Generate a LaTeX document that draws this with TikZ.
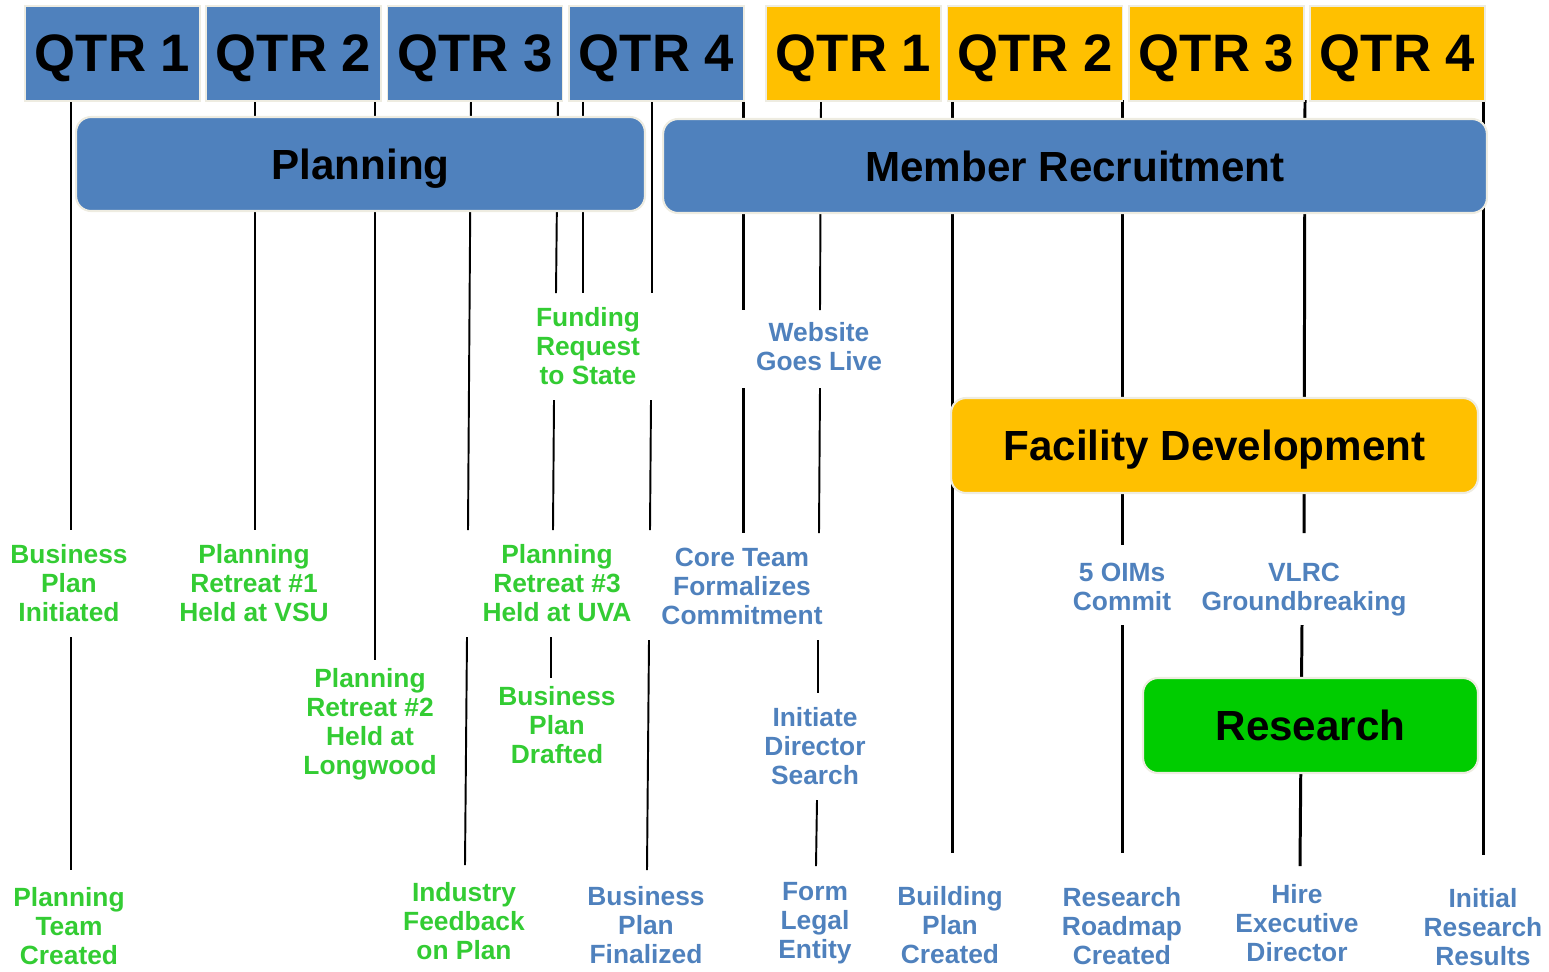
\documentclass[tikz,border=0pt]{standalone}
\usepackage{fontspec}
\setmainfont{Liberation Sans}
\definecolor{qblue}{HTML}{4F81BD}
\definecolor{qgold}{HTML}{FFC000}
\definecolor{qgreen}{HTML}{00CC00}
\definecolor{lgreen}{HTML}{33CC33}
\definecolor{rim}{HTML}{EEECE1}
\begin{document}
\begin{tikzpicture}[x=0.02cm,y=-0.02cm,
  qtr/.style={draw=rim,line width=1pt,minimum width=3.5cm,minimum height=1.9cm,inner sep=0pt,text depth=0pt,font=\bfseries\fontsize{30}{32}\selectfont},
  phase/.style={draw=rim,line width=1.2pt,rounded corners=0.3cm,minimum height=1.88cm,inner sep=0pt,text depth=0pt,font=\bfseries\fontsize{24}{26}\selectfont},
  lbl/.style={align=center,inner sep=0pt,font=\bfseries\fontsize{15}{16.5}\selectfont},
  glbl/.style={lbl,text=lgreen},
  blbl/.style={lbl,text=qblue},
  thk/.style={line width=1.7pt},
  thn/.style={line width=1.1pt}]
\useasboundingbox (0,0) rectangle (1549,971);
% timeline ticks
\foreach \xa/\ya/\xb/\yb in {71/100/71/530,71/637/71/870,255/100/255/530,375/100/375/660,
  583/100/583/293,743/100/743/310,743/388/743/533,952/100/952/853,1122/100/1122/545,
  1122/625/1122/853,1305/100/1304/533,1302/625/1300/866,1483/100/1483/855}
  \draw[thk] (\xa,\ya) -- (\xb,\yb);
\foreach \xa/\ya/\xb/\yb in {471/97/468/530,467/637/465/865,558/97/556/293,554/400/553/530,
  551/637/551/678,652/100/652/293,651/400/650/530,649/640/647/870,821/100/820/310,
  820/388/819/533,818/640/818/693,817/800/816/866}
  \draw[thn] (\xa,\ya) -- (\xb,\yb);
% quarters
\foreach \x [count=\i] in {112.5,293.5,475,656.5}
  \node[qtr,fill=qblue] (q\i) at (\x,53.5) {QTR \i};
\foreach \x [count=\i] in {853.5,1035,1216.5,1397.5}
  \node[qtr,fill=qgold] (r\i) at (\x,53.5) {QTR \i};
% phases
\node[phase,fill=qblue,minimum width=11.38cm] (planning) at (360.5,164) {Planning};
\node[phase,fill=qblue,minimum width=16.48cm] (recruit) at (1075,166) {Member Recruitment};
\node[phase,fill=qgold,minimum width=10.54cm,minimum height=1.9cm] (facility) at (1214.5,445.5) {Facility Development};
\node[phase,fill=qgreen,minimum width=6.7cm,minimum height=1.9cm] (research) at (1310.5,725.5) {Research};
% milestones
\node[glbl] (bpi) at (69,583) {Business\\Plan\\Initiated};
\node[glbl] (ptc) at (69,926) {Planning\\Team\\Created};
\node[glbl] (pr1) at (254,583) {Planning\\Retreat \#1\\Held at VSU};
\node[glbl] (pr2) at (370,724) {Planning\\Retreat \#2\\Held at\\Longwood};
\node[glbl] (ifp) at (464,921) {Industry\\Feedback\\on Plan};
\node[glbl] (frs) at (588,346) {Funding\\Request\\to State};
\node[glbl] (pr3) at (557,583) {Planning\\Retreat \#3\\Held at UVA};
\node[glbl] (bpd) at (557,725) {Business\\Plan\\Drafted};
\node[blbl] (bpf) at (646,925) {Business\\Plan\\Finalized};
\node[blbl] (ctf) at (742,586) {Core Team\\Formalizes\\Commitment};
\node[blbl] (wgl) at (819,347) {Website\\Goes Live};
\node[blbl] (ids) at (815,746) {Initiate\\Director\\Search};
\node[blbl] (fle) at (815,923) {Form\\Legal\\Entity};
\node[blbl] (bpc) at (950,925) {Building\\Plan\\Created};
\node[blbl] (oim) at (1122,587) {5 OIMs\\Commit};
\node[blbl] (vlrc) at (1304,590) {VLRC\\Groundbreaking};
\node[blbl] (rrc) at (1122,926) {Research\\Roadmap\\Created};
\node[blbl] (hed) at (1297,923) {Hire\\Executive\\Director};
\node[blbl] (irr) at (1483,927) {Initial\\Research\\Results};
\end{tikzpicture}
\end{document}
